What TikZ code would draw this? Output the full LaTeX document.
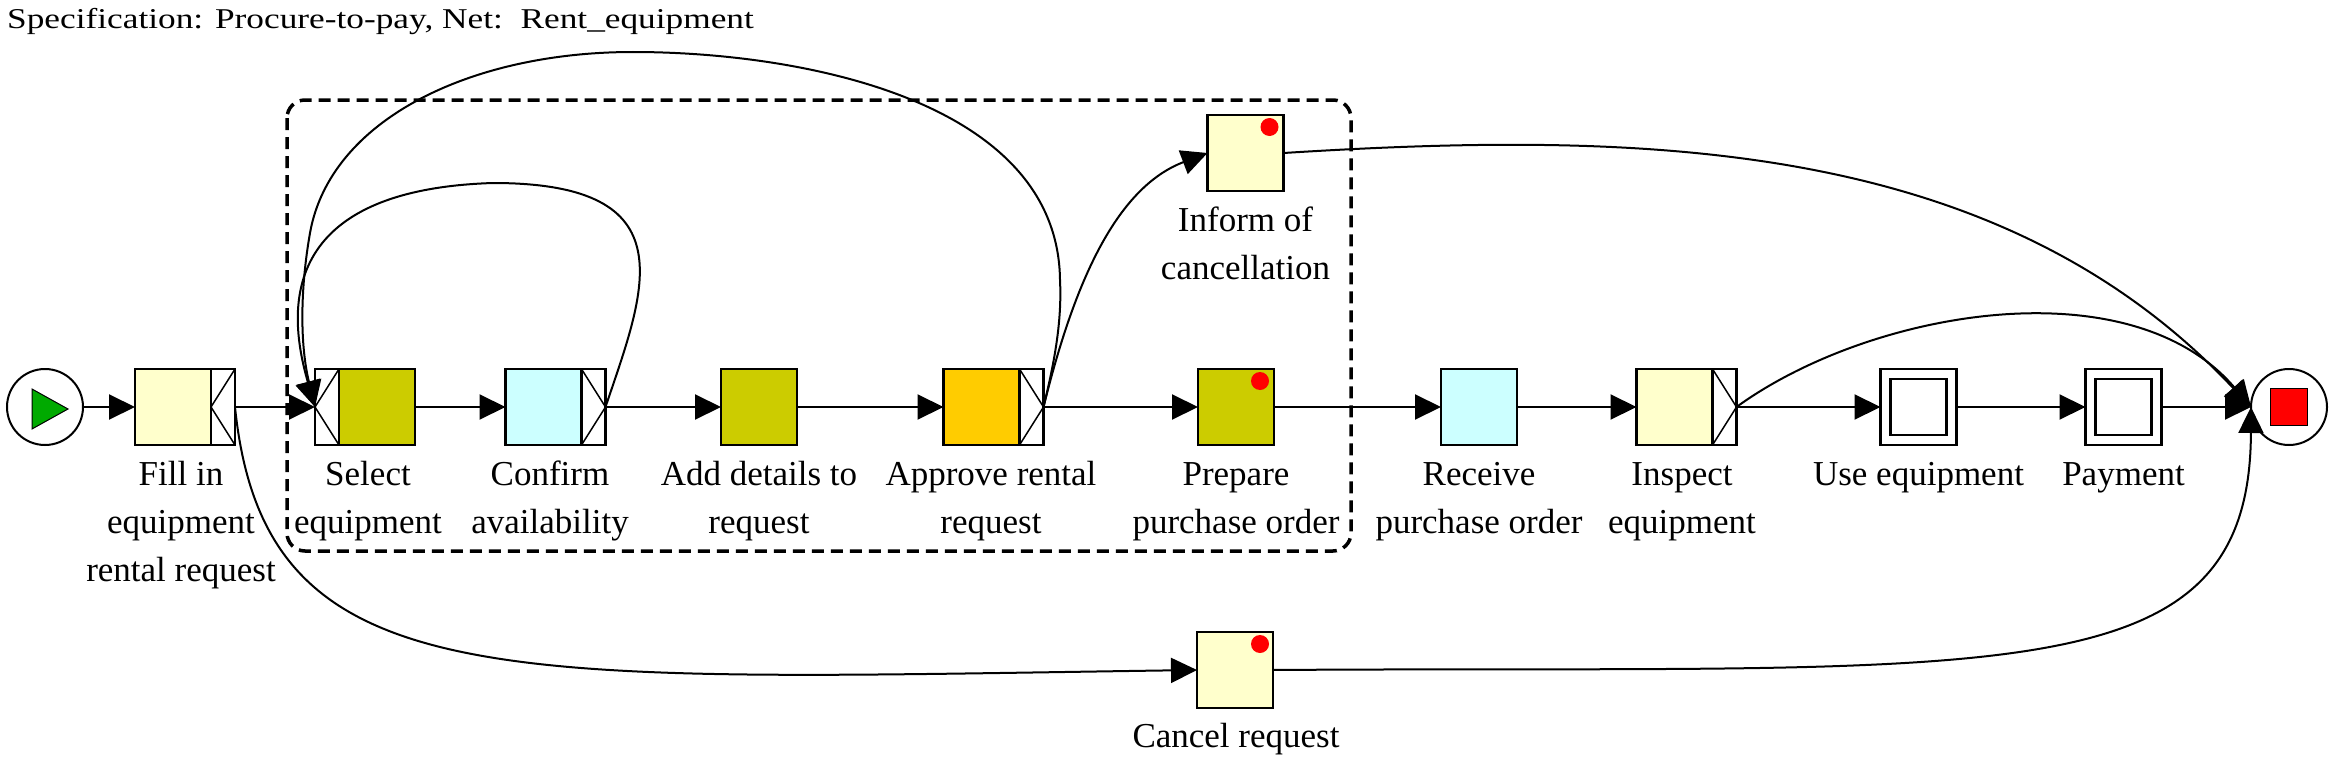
\documentclass[tikz,border=0pt]{standalone}
\usepackage{fontspec}
\setmainfont{Liberation Serif}
\usetikzlibrary{arrows.meta}
\definecolor{ltyellow}{HTML}{FFFFCC}
\definecolor{olive}{HTML}{CCCC00}
\definecolor{ltcyan}{HTML}{CCFFFF}
\definecolor{amber}{HTML}{FFCC00}
\definecolor{startgreen}{HTML}{00AA00}
\newcommand\lblfont{\fontsize{35}{48}\selectfont}
\begin{document}
\begin{tikzpicture}[x=1pt,y=-1pt,
  task/.style={draw, line width=2.5pt, minimum width=76pt, minimum height=76pt, inner sep=0pt, outer sep=0pt},
  deco/.style={draw, fill=white, line width=2.5pt, minimum width=24pt, minimum height=76pt, inner sep=0pt, outer sep=0pt},
  decoline/.style={line width=1.5pt},
  lbl/.style={font=\lblfont, align=center, anchor=north, inner sep=0pt},
  flow/.style={line width=2pt, -{Triangle[length=26pt,width=25pt]}},
  cond/.style={circle, draw, line width=2pt, minimum size=76pt, inner sep=0pt, outer sep=0pt, fill=white},
  reddot/.style={fill=red, circle, inner sep=0pt, minimum size=18pt},
  group/.style={draw, line width=3.5pt, dash pattern=on 12pt off 7pt, rounded corners=18pt},
  inner/.style={draw, line width=2.5pt}
]
\useasboundingbox (0,0) rectangle (2335,760);

% title
\node[anchor=base west, inner sep=0pt] (title) at (7,29)
  {\scalebox{1.23}[1]{\fontsize{28.7}{30}\selectfont Specification: Procure-to-pay, Net:\ \ Rent\_equipment}};

% group
\draw[group] (287,100) rectangle (1351,551);

% start / end
\node[cond] (start) at (45,407) {};
\draw[fill=startgreen, line width=1pt] ([shift={(-13,-18)}]start.center) -- ([shift={(23,2)}]start.center) -- ([shift={(-13,22)}]start.center) -- cycle;
\node[cond] (end) at (2289,407) {};
\node[draw, fill=red, line width=1.5pt, minimum size=37pt, inner sep=0pt] (endsq) at (end.center) {};

% tasks
\node[task, fill=ltyellow] (fill) at (173,407) {};
\node[deco, anchor=west] (fillD) at (fill.east) {};
\draw[decoline] (fillD.north east) -- (fillD.west) -- (fillD.south east);

\node[task, fill=olive] (sel) at (377,407) {};
\node[deco, anchor=east] (selD) at (sel.west) {};
\draw[decoline] (selD.north east) -- (selD.west) -- (selD.south east);

\node[task, fill=ltcyan] (conf) at (543.5,407) {};
\node[deco, anchor=west] (confD) at (conf.east) {};
\draw[decoline] (confD.north west) -- (confD.east) -- (confD.south west);

\node[task, fill=olive] (add) at (759,407) {};

\node[task, fill=amber] (appr) at (981.5,407) {};
\node[deco, anchor=west] (apprD) at (appr.east) {};
\draw[decoline] (apprD.north west) -- (apprD.east) -- (apprD.south west);

\node[task, fill=olive] (prep) at (1236,407) {};
\node[reddot] (prepR) at ([shift={(-14,12)}]prep.north east) {};

\node[task, fill=ltyellow] (inf) at (1245.5,153) {};
\node[reddot] (infR) at ([shift={(-14,12)}]inf.north east) {};

\node[task, fill=ltcyan] (recv) at (1479,407) {};

\node[task, fill=ltyellow] (insp) at (1674.5,407) {};
\node[deco, anchor=west] (inspD) at (insp.east) {};
\draw[decoline] (inspD.north west) -- (inspD.east) -- (inspD.south west);

\node[task, fill=white] (use) at (1918.5,407) {};
\draw[inner] ([shift={(10,10)}]use.north west) rectangle ([shift={(-10,-10)}]use.south east);

\node[task, fill=white] (pay) at (2123.5,407) {};
\draw[inner] ([shift={(10,10)}]pay.north west) rectangle ([shift={(-10,-10)}]pay.south east);

\node[task, fill=ltyellow] (canc) at (1235,670) {};
\node[reddot] (cancR) at ([shift={(-13,12)}]canc.north east) {};

% labels
\node[lbl] (fillL) at (181,451.4) {\strut Fill in\\equipment\\rental request};
\node[lbl] (selL) at (368,451.4) {\strut Select\\equipment};
\node[lbl] (confL) at (550,451.4) {\strut Confirm\\availability};
\node[lbl] (addL) at (759,451.4) {\strut Add details to\\request};
\node[lbl] (apprL) at (991,451.4) {\strut Approve rental\\request};
\node[lbl] (prepL) at (1236,451.4) {\strut Prepare\\purchase order};
\node[lbl] (infL) at (1245.5,197.4) {\strut Inform of\\cancellation};
\node[lbl] (recvL) at (1479,451.4) {\strut Receive\\purchase order};
\node[lbl] (inspL) at (1682,451.4) {\strut Inspect\\equipment};
\node[lbl] (useL) at (1918.5,451.4) {\strut Use equipment};
\node[lbl] (payL) at (2123.5,451.4) {\strut Payment};
\node[lbl] (cancL) at (1236,713.4) {\strut Cancel request};

% straight flows
\draw[flow] (start.east) -- (fill.west);
\draw[flow] (fillD.east) -- (selD.west);
\draw[flow] (sel.east) -- (conf.west);
\draw[flow] (confD.east) -- (add.west);
\draw[flow] (add.east) -- (appr.west);
\draw[flow] (apprD.east) -- (prep.west);
\draw[flow] (prep.east) -- (recv.west);
\draw[flow] (recv.east) -- (insp.west);
\draw[flow] (inspD.east) -- (use.west);
\draw[flow] (use.east) -- (pay.west);
\draw[flow] (pay.east) -- (end.west);

% curved flows
\draw[flow] (fillD.east) .. controls (265,700) and (500,680) .. (canc.west);
\draw[flow] (confD.east) .. controls (645,290) and (690,183) .. (493,183)
  .. controls (270,190) and (290,320) .. (selD.west);
\draw[flow] (apprD.east) .. controls (1055,360) and (1062,320) .. (1060,280)
  .. controls (1058,100) and (800,52) .. (633,52)
  .. controls (470,52) and (330,120) .. (310,233)
  .. controls (300,290) and (300,345) .. (selD.west);
\draw[flow] (apprD.east) .. controls (1070,300) and (1110,190) .. (inf.west);
\draw[flow] (inf.east) .. controls (1650,130) and (2000,140) .. (end.west);
\draw[flow] (inspD.east) .. controls (1870,310) and (2130,265) .. (end.west);
\draw[flow] (canc.east) .. controls (2000,665) and (2250,700) .. (end.west);
\end{tikzpicture}
\end{document}
